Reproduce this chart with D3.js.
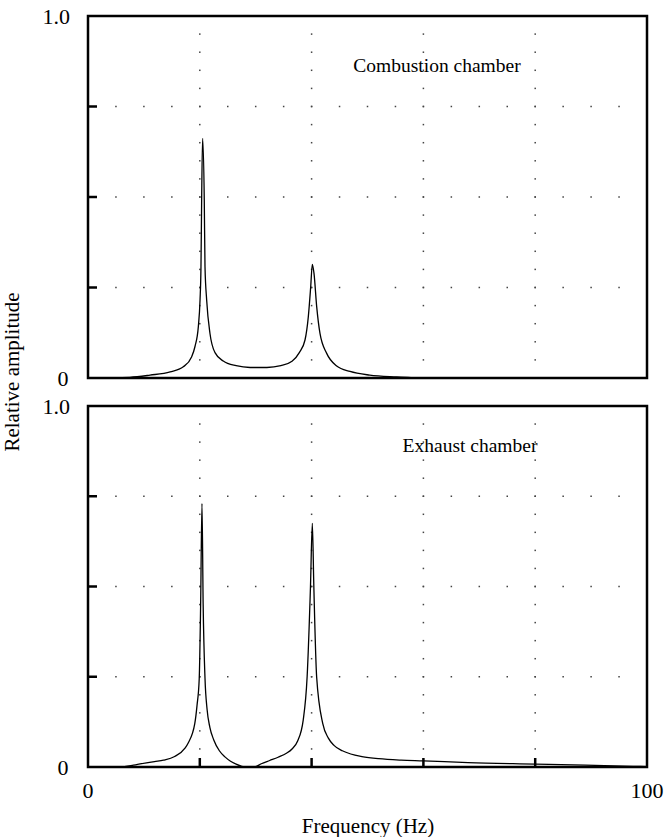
<!DOCTYPE html>
<html>
<head>
<meta charset="utf-8">
<script src="https://cdn.jsdelivr.net/npm/d3@7"></script>
<style>
  body { margin: 0; background: #fff; }
  svg text { font-family: "Liberation Serif", "DejaVu Serif", serif; fill: #000; }
</style>
</head>
<body>
<div id="chart"></div>
<script>
// Data
const xTickLabels = ["0", "100"]
const yTickLabels = ["0", "1.0"]
const panelTitles = ["Combustion chamber", "Exhaust chamber"]
const xGrid = [20, 40, 60, 80]            // Hz, dotted verticals
const yGrid = [0.25, 0.5, 0.75]           // dotted horizontals

// Combustion chamber spectrum
const freqTop = [0, 7.5, 11.1, 14.7, 17.05, 18.55, 19.14, 19.74, 20.04, 20.21, 20.33, 20.5,
  20.8, 20.93, 21.23, 21.82, 22.72, 24.2, 26.5, 29, 32, 34.5, 36.5, 37.8, 38.82, 39.41, 39.84,
  40.13, 40.43, 40.91, 41.5, 42.7, 44.49, 46.87, 50.4, 55.2, 60, 100]
const ampTop = [0, 0.002, 0.008, 0.017, 0.031, 0.059, 0.087, 0.142, 0.215, 0.307, 0.492, 0.662,
  0.492, 0.307, 0.215, 0.123, 0.07, 0.047, 0.034, 0.029, 0.029, 0.034, 0.046, 0.07, 0.105, 0.169, 0.252,
  0.314, 0.289, 0.197, 0.123, 0.068, 0.033, 0.018, 0.008, 0.003, 0, 0]

// Exhaust chamber spectrum
const freqBottom = [0, 5.7, 8.5, 11.9, 13.5, 15.5, 17.35, 17.9, 19.1, 19.5, 19.9, 20.15, 20.39,
  20.6, 20.93, 21.3, 21.8, 22.5, 23.5, 24.5, 25.5, 26.5, 27.5, 28.3, 29.8, 31, 32.5, 34, 35.5,
  36.5, 37.5, 38.5, 39.2, 39.8, 40.13, 40.4, 40.9, 42, 43, 44, 45.5, 47, 49, 52, 56, 60, 68,
  80, 89, 97.5, 100]
const ampBottom = [0, 0, 0.006, 0.015, 0.019, 0.029, 0.052, 0.066, 0.12, 0.17, 0.246, 0.45, 0.73,
  0.45, 0.246, 0.16, 0.11, 0.075, 0.045, 0.028, 0.016, 0.008, 0.002, 0, 0, 0.009, 0.018, 0.027, 0.038,
  0.05, 0.072, 0.13, 0.25, 0.5, 0.675, 0.5, 0.25, 0.12, 0.08, 0.06, 0.045, 0.036, 0.029, 0.023,
  0.019, 0.017, 0.012, 0.008, 0.005, 0.002, 0.001]

const WIDTH = 667
const HEIGHT = 837
const PLOT = {LEFT: 88, RIGHT: 647}
const PANELS = [
  {TOP: 16, BOTTOM: 378, freq: freqTop, amp: ampTop, title: panelTitles[0], tx: 437, ty: 72, xTicks: false},
  {TOP: 406, BOTTOM: 767, freq: freqBottom, amp: ampBottom, title: panelTitles[1], tx: 470, ty: 452, xTicks: true}
]

const svg = d3.select("#chart").append("svg")
  .attr("width", WIDTH)
  .attr("height", HEIGHT)

const x = d3.scaleLinear().domain([0, 100]).range([PLOT.LEFT, PLOT.RIGHT])
const gridDots = d3.range(1, 20)

PANELS.forEach(p => {
  const y = d3.scaleLinear().domain([0, 1]).range([p.BOTTOM, p.TOP])
  const g = svg.append("g")

  // dotted grid: vertical lines
  xGrid.forEach(f => {
    g.append("g").selectAll("rect")
      .data(gridDots.map(k => k / 20))
      .join("rect")
      .attr("x", x(f) - 0.75)
      .attr("y", d => y(d) - 0.75)
      .attr("width", 1.5).attr("height", 1.5)
      .attr("fill", "#444")
  })
  // dotted grid: horizontal lines
  yGrid.forEach(a => {
    g.append("g").selectAll("rect")
      .data(gridDots.map(k => k * 5))
      .join("rect")
      .attr("x", d => x(d) - 0.75)
      .attr("y", y(a) - 0.75)
      .attr("width", 1.5).attr("height", 1.5)
      .attr("fill", "#444")
  })

  // the spectrum
  const line = d3.line()
    .x((d, i) => x(p.freq[i]))
    .y(d => y(d))
    .curve(d3.curveMonotoneX)
  g.append("path")
    .datum(p.amp)
    .attr("d", line)
    .attr("fill", "none")
    .attr("stroke", "#000")
    .attr("stroke-width", 1.3)

  // inward ticks on the left axis
  g.selectAll(".ytick")
    .data(yGrid)
    .join("line")
    .attr("x1", PLOT.LEFT).attr("x2", PLOT.LEFT + 9)
    .attr("y1", d => y(d)).attr("y2", d => y(d))
    .attr("stroke", "#000").attr("stroke-width", 2.5)

  // inward ticks on the bottom axis (lower panel only)
  if (p.xTicks) {
    g.selectAll(".xtick")
      .data(xGrid)
      .join("line")
      .attr("x1", d => x(d)).attr("x2", d => x(d))
      .attr("y1", p.BOTTOM).attr("y2", p.BOTTOM - 9)
      .attr("stroke", "#000").attr("stroke-width", 2.5)
  }

  // frame
  g.append("rect")
    .attr("x", PLOT.LEFT).attr("y", p.TOP)
    .attr("width", PLOT.RIGHT - PLOT.LEFT).attr("height", p.BOTTOM - p.TOP)
    .attr("fill", "none").attr("stroke", "#000").attr("stroke-width", 2.5)

  // y labels
  g.append("text").attr("x", 70).attr("y", y(1)).attr("dy", "0.35em")
    .attr("text-anchor", "end").attr("font-size", 22).text(yTickLabels[1])
  g.append("text").attr("x", 63).attr("y", y(0)).attr("dy", "0.35em")
    .attr("text-anchor", "middle").attr("font-size", 22).text(yTickLabels[0])

  // panel title
  g.append("text").attr("x", p.tx).attr("y", p.ty)
    .attr("text-anchor", "middle").attr("font-size", 19.5).text(p.title)
})

// x tick labels
svg.selectAll(".xlab")
  .data(xTickLabels)
  .join("text")
  .attr("x", d => x(+d))
  .attr("y", 790).attr("dy", "0.35em")
  .attr("text-anchor", "middle").attr("font-size", 22)
  .text(d => d)

// axis titles
svg.append("text")
  .attr("x", 368).attr("y", 833)
  .attr("text-anchor", "middle").attr("font-size", 21)
  .text("Frequency (Hz)")
svg.append("text")
  .attr("transform", "translate(19,372) rotate(-90)")
  .attr("text-anchor", "middle").attr("font-size", 21)
  .text("Relative amplitude")
</script>
</body>
</html>
